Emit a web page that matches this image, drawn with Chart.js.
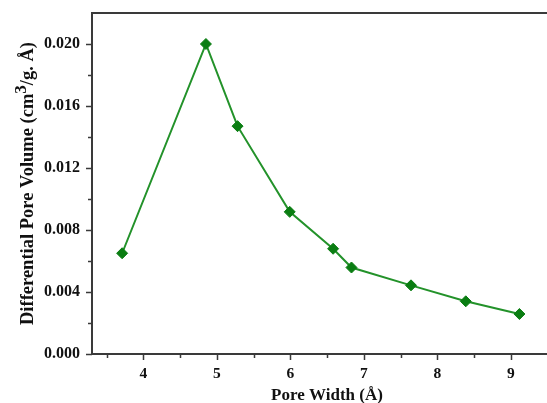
<!DOCTYPE html>
<html>
<head>
<meta charset="utf-8">
<script src="https://cdn.jsdelivr.net/npm/chart.js@4.4.1/dist/chart.umd.min.js"></script>
<style>
html,body{margin:0;padding:0;background:#fff;}
#wrap{width:547px;height:403px;position:relative;}
</style>
</head>
<body>
<div id="wrap"><canvas id="c" width="547" height="403"></canvas></div>
<script>
const poreWidth = [3.71, 4.85, 5.28, 5.99, 6.58, 6.83, 7.64, 8.385, 9.115];
const poreVolume = [0.0065, 0.0200, 0.0147, 0.00917, 0.00679, 0.00558, 0.00443, 0.00340, 0.00258];
const xMajorTicks = [4, 5, 6, 7, 8, 9];
const xMinorTicks = [3.5, 4.5, 5.5, 6.5, 7.5, 8.5];
const yMajorTicks = [0.000, 0.004, 0.008, 0.012, 0.016, 0.020];
const yMinorTicks = [0.002, 0.006, 0.010, 0.014, 0.018];
const xTitle = 'Pore Width (Å)';
const yTitleParts = ['Differential Pore Volume (cm', '3', '/g. Å)'];

const FONT = '"Liberation Serif", "Times New Roman", serif';
const AXIS = '#3a3a3a';

const framePlugin = {
  id: 'frame',
  afterDraw(chart) {
    const ctx = chart.ctx;
    const a = chart.chartArea;
    const xs = chart.scales.x, ys = chart.scales.y;
    ctx.save();
    ctx.strokeStyle = AXIS;
    ctx.lineWidth = 2;
    ctx.beginPath();
    ctx.moveTo(a.left, a.top); ctx.lineTo(a.right + 2, a.top);
    ctx.moveTo(a.left, a.top - 1); ctx.lineTo(a.left, a.bottom + 1);
    ctx.moveTo(a.left - 1, a.bottom); ctx.lineTo(a.right + 2, a.bottom);
    ctx.stroke();
    ctx.lineWidth = 1.5;
    ctx.beginPath();
    xMajorTicks.forEach(v => { const p = Math.round(xs.getPixelForValue(v)) + 0.5; ctx.moveTo(p, a.bottom); ctx.lineTo(p, a.bottom + 6); });
    xMinorTicks.forEach(v => { const p = Math.round(xs.getPixelForValue(v)) + 0.5; ctx.moveTo(p, a.bottom); ctx.lineTo(p, a.bottom + 4); });
    yMajorTicks.forEach(v => { const p = Math.round(ys.getPixelForValue(v)) + 0.5; ctx.moveTo(a.left, p); ctx.lineTo(a.left - 6, p); });
    yMinorTicks.forEach(v => { const p = Math.round(ys.getPixelForValue(v)) + 0.5; ctx.moveTo(a.left, p); ctx.lineTo(a.left - 4, p); });
    ctx.stroke();

    // axis titles
    ctx.fillStyle = '#111';
    ctx.font = 'bold 17px ' + FONT;
    ctx.textAlign = 'center';
    ctx.textBaseline = 'alphabetic';
    ctx.fillText(xTitle, 327, 400);

    const mainFont = 'bold 18.5px ' + FONT;
    const supFont = 'bold 17px ' + FONT;
    ctx.font = mainFont;
    const w0 = ctx.measureText(yTitleParts[0]).width;
    const w2 = ctx.measureText(yTitleParts[2]).width;
    ctx.font = supFont;
    const w1 = ctx.measureText(yTitleParts[1]).width;
    const total = w0 + w1 + w2;
    const cy = (a.top + a.bottom) / 2;
    ctx.translate(33, cy);
    ctx.rotate(-Math.PI / 2);
    ctx.textAlign = 'left';
    let x = -total / 2;
    ctx.font = mainFont;
    ctx.fillText(yTitleParts[0], x, 0);
    x += w0;
    ctx.font = supFont;
    ctx.fillText(yTitleParts[1], x, -7);
    x += w1;
    ctx.font = mainFont;
    ctx.fillText(yTitleParts[2], x, 0);
    ctx.restore();
  }
};

new Chart(document.getElementById('c'), {
  type: 'scatter',
  data: {
    datasets: [{
      data: poreWidth.map((x, i) => ({ x: x, y: poreVolume[i] })),
      showLine: true,
      borderColor: '#23922a',
      borderWidth: 2,
      pointStyle: 'rectRot',
      pointRadius: 5.5,
      pointHoverRadius: 5.5,
      pointBackgroundColor: '#0a7d12',
      pointBorderColor: '#0a7d12',
      pointBorderWidth: 1,
      tension: 0
    }]
  },
  plugins: [framePlugin],
  options: {
    responsive: false,
    animation: false,
    events: [],
    layout: { autoPadding: false, padding: { top: 13, right: 0, left: 0, bottom: 0 } },
    plugins: { legend: { display: false }, tooltip: { enabled: false } },
    scales: {
      x: {
        type: 'linear',
        min: 3.3,
        max: 9.49,
        grid: { display: false },
        border: { display: false },
        afterBuildTicks: s => { s.ticks = xMajorTicks.map(v => ({ value: v })); },
        afterFit: s => { s.height = 49; s.paddingLeft = 0; s.paddingRight = 0; },
        ticks: {
          padding: 3,
          color: '#111',
          font: { family: FONT, size: 15.5, weight: 'bold' },
          callback: v => String(v)
        }
      },
      y: {
        type: 'linear',
        min: 0,
        max: 0.022,
        grid: { display: false },
        border: { display: false },
        afterBuildTicks: s => { s.ticks = yMajorTicks.map(v => ({ value: v })); },
        afterFit: s => { s.width = 92; s.paddingTop = 0; s.paddingBottom = 0; },
        ticks: {
          padding: 4,
          color: '#111',
          font: { family: FONT, size: 16, weight: 'bold' },
          callback: v => Number(v).toFixed(3)
        }
      }
    }
  }
});
</script>
</body>
</html>
